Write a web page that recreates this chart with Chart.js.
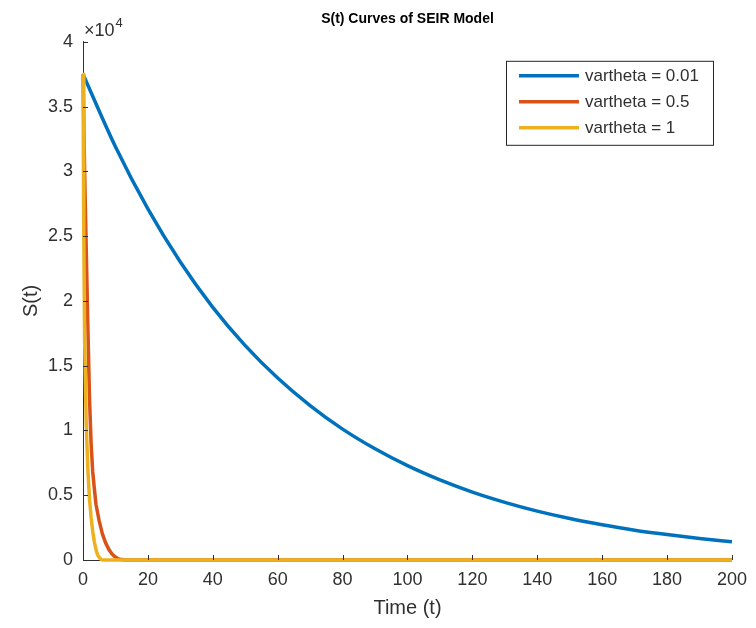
<!DOCTYPE html>
<html>
<head>
<meta charset="utf-8">
<script src="https://cdn.jsdelivr.net/npm/chart.js@4.4.1/dist/chart.umd.min.js"></script>
<style>
  html, body { margin: 0; background: #fff; }
  #wrap { width: 756px; height: 628px; }
</style>
</head>
<body>
<div id="wrap"><canvas id="chart"></canvas></div>
<script>
// S(t) for vartheta = 0.01
const tBlue = [0, 10, 20, 30, 40, 50, 60, 70, 80, 90, 100, 110, 120, 130, 140, 150, 160, 170, 180, 190, 200];
const sBlue = [37500, 31900, 27100, 23000, 19500, 16550, 14050, 11920, 10100, 8580, 7280, 6180, 5240, 4450, 3770, 3200, 2720, 2300, 1960, 1660, 1400];

// S(t) for vartheta = 0.5
const tRed = [0, 0.5, 1, 1.5, 2, 2.5, 3, 3.5, 4, 5, 6, 7, 8, 9, 10, 11, 12, 13, 200];
const sRed = [37500, 30000, 24000, 18000, 12500, 9000, 6800, 5500, 4300, 3000, 2000, 1300, 800, 450, 220, 80, 30, 0, 0];

// S(t) for vartheta = 1
const tYellow = [0, 0.25, 0.5, 1, 1.5, 2, 2.5, 3, 3.5, 4, 4.5, 5, 5.5, 6, 200];
const sYellow = [37500, 25000, 17000, 10500, 7000, 4700, 3300, 2200, 1400, 800, 400, 200, 60, 0, 0];

const seriesLabels = ["vartheta = 0.01", "vartheta = 0.5", "vartheta = 1"];
const seriesColors = ["#0072BD", "#D95319", "#EDB120"];

const xTickLabels = ["0", "20", "40", "60", "80", "100", "120", "140", "160", "180", "200"];
const yTickLabels = ["0", "0.5", "1", "1.5", "2", "2.5", "3", "3.5", "4"];

const FONT = "'Liberation Sans', Arial, Helvetica, sans-serif";
const AXIS_COLOR = "#303030";

const toPoints = (ts, ss) => ts.map((t, i) => ({ x: t, y: ss[i] }));

// MATLAB style bits: inward ticks, x10^4 label, legend box
const matlabDecor = {
  id: "matlabDecor",
  afterDraw(c) {
    const ctx = c.ctx;
    const area = c.chartArea;
    const xs = c.scales.x;
    const ys = c.scales.y;

    ctx.save();
    ctx.strokeStyle = AXIS_COLOR;
    ctx.lineWidth = 1;
    xs.ticks.forEach((t) => {
      const px = Math.round(xs.getPixelForValue(t.value)) + 0.5;
      ctx.beginPath();
      ctx.moveTo(px, area.bottom);
      ctx.lineTo(px, area.bottom - 5);
      ctx.stroke();
    });
    ys.ticks.forEach((t) => {
      const py = Math.round(ys.getPixelForValue(t.value)) + 0.5;
      ctx.beginPath();
      ctx.moveTo(area.left, py);
      ctx.lineTo(area.left + 5, py);
      ctx.stroke();
    });

    // exponent label
    ctx.fillStyle = AXIS_COLOR;
    ctx.textBaseline = "alphabetic";
    ctx.textAlign = "left";
    ctx.font = `18px ${FONT}`;
    ctx.fillText("\u00d710", area.left + 1, area.top - 6);
    const w = ctx.measureText("\u00d710").width;
    ctx.font = `13px ${FONT}`;
    ctx.fillText("4", area.left + 1 + w + 1, area.top - 15);

    // legend
    const boxW = 207;
    const boxH = 84;
    const bx = area.right - 19 - boxW;
    const by = area.top + 19;
    ctx.fillStyle = "#fff";
    ctx.fillRect(bx, by, boxW, boxH);
    ctx.strokeStyle = "#262626";
    ctx.strokeRect(bx + 0.5, by + 0.5, boxW, boxH);
    ctx.font = `17px ${FONT}`;
    ctx.textBaseline = "middle";
    seriesLabels.forEach((lab, i) => {
      const ly = by + 15 + i * 26;
      ctx.strokeStyle = seriesColors[i];
      ctx.lineWidth = 3.5;
      ctx.beginPath();
      ctx.moveTo(bx + 13, ly);
      ctx.lineTo(bx + 73, ly);
      ctx.stroke();
      ctx.fillStyle = AXIS_COLOR;
      ctx.fillText(lab, bx + 79, ly + 1);
    });
    ctx.restore();
  },
};

const series = [
  [tBlue, sBlue],
  [tRed, sRed],
  [tYellow, sYellow],
];

new Chart(document.getElementById("chart"), {
  type: "line",
  data: {
    datasets: series.map(([ts, ss], i) => ({
      label: seriesLabels[i],
      data: toPoints(ts, ss),
      borderColor: seriesColors[i],
      backgroundColor: seriesColors[i],
      borderWidth: 3.5,
      pointRadius: 0,
      cubicInterpolationMode: i === 0 ? "monotone" : "default",
      tension: 0,
      borderJoinStyle: "round",
      clip: false,
      order: 2 - i,
    })),
  },
  options: {
    responsive: true,
    maintainAspectRatio: false,
    animation: false,
    layout: { padding: { left: 0, right: 18, top: 0, bottom: 0 } },
    plugins: {
      legend: { display: false },
      tooltip: { enabled: false },
      title: {
        display: true,
        text: "S(t) Curves of SEIR Model",
        fullSize: false,
        color: "#000",
        font: { family: FONT, size: 14, weight: "bold" },
        padding: { top: 11, bottom: 14 },
      },
    },
    scales: {
      x: {
        type: "linear",
        min: 0,
        max: 200,
        afterFit: (s) => { s.height = 68; },
        ticks: {
          stepSize: 20,
          padding: 9,
          color: AXIS_COLOR,
          font: { family: FONT, size: 18 },
          maxRotation: 0,
          callback: (v, i) => xTickLabels[i],
        },
        grid: { display: false, drawTicks: false },
        border: { display: true, color: AXIS_COLOR, width: 1 },
        title: {
          display: true,
          text: "Time (t)",
          color: AXIS_COLOR,
          font: { family: FONT, size: 20 },
          padding: { top: 0, bottom: 8 },
        },
      },
      y: {
        type: "linear",
        min: 0,
        max: 40000,
        afterFit: (s) => { s.width = 83; },
        ticks: {
          stepSize: 5000,
          padding: 10,
          color: AXIS_COLOR,
          font: { family: FONT, size: 18 },
          callback: (v, i) => yTickLabels[i],
        },
        grid: { display: false, drawTicks: false },
        border: { display: true, color: AXIS_COLOR, width: 1 },
        title: {
          display: true,
          text: "S(t)",
          color: AXIS_COLOR,
          font: { family: FONT, size: 20 },
          padding: { top: 19, bottom: 0 },
        },
      },
    },
  },
  plugins: [matlabDecor],
});
</script>
</body>
</html>
